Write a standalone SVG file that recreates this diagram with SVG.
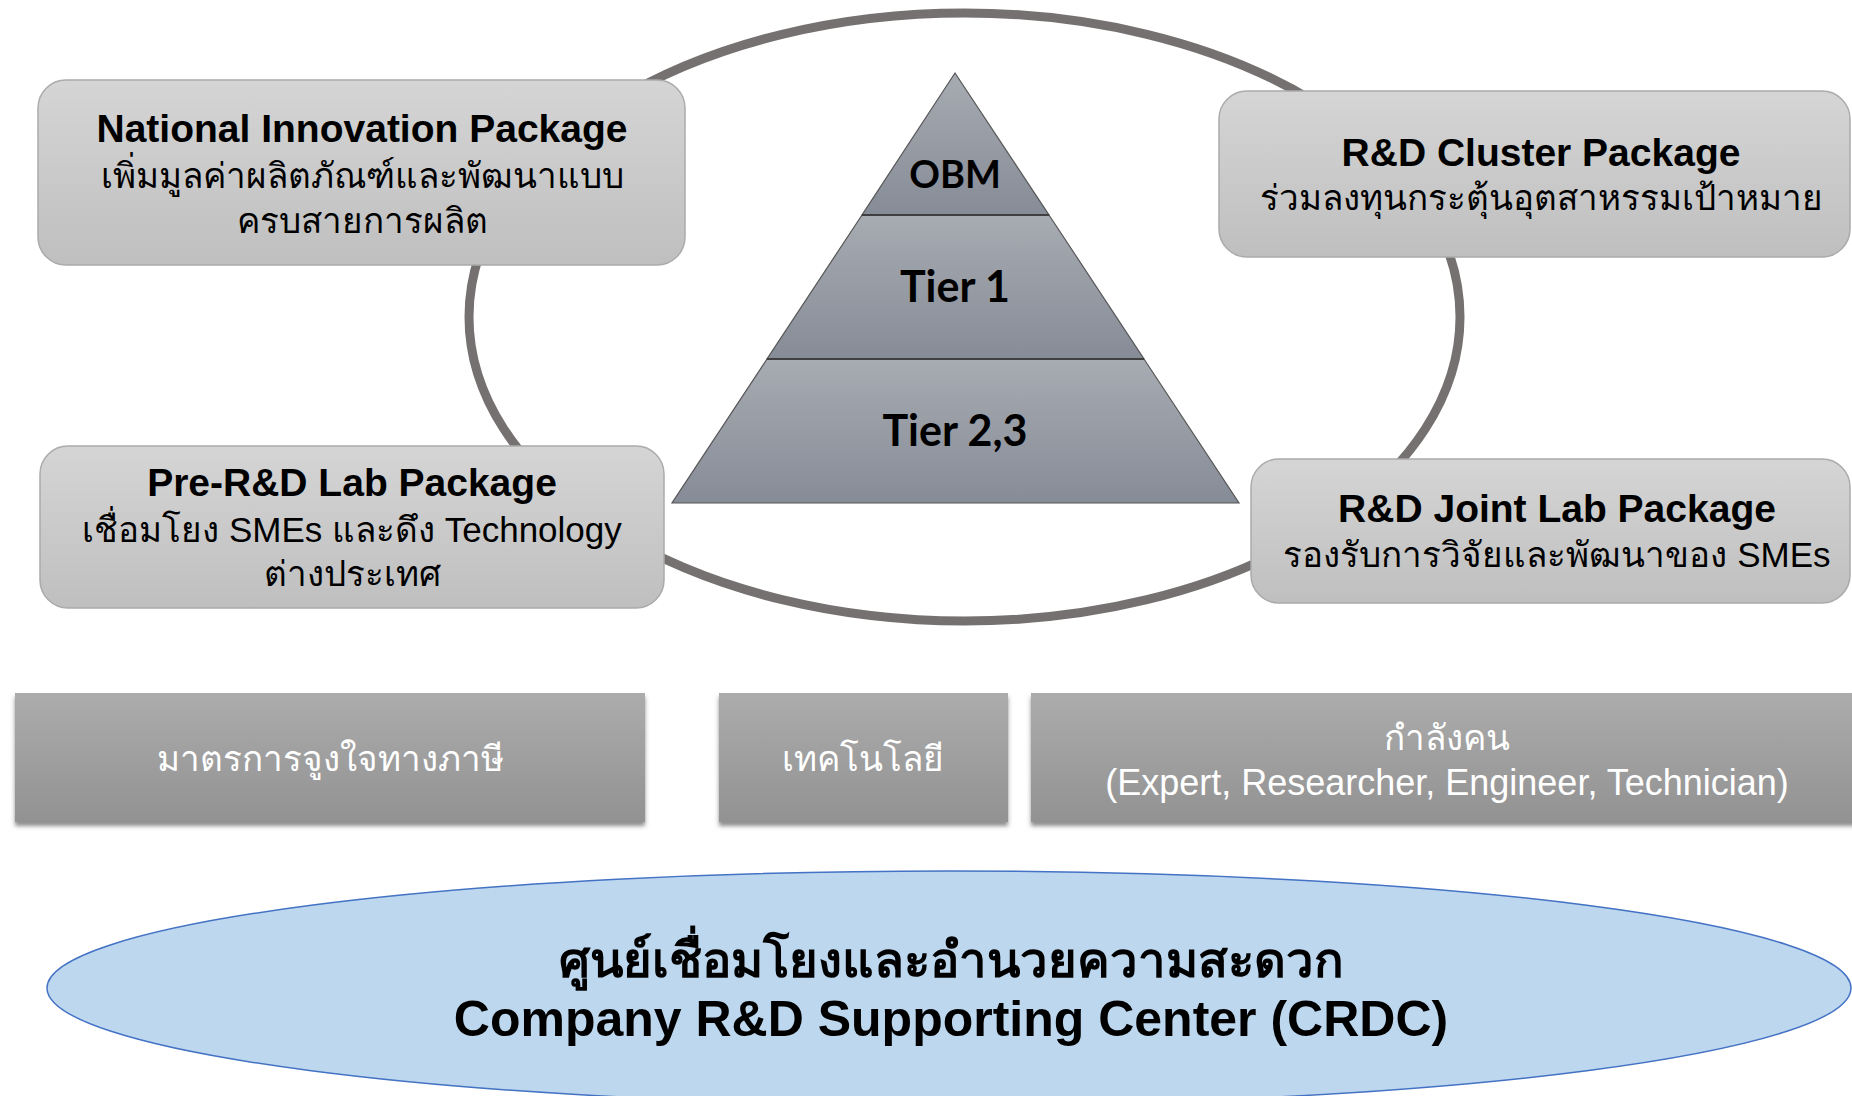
<svg xmlns="http://www.w3.org/2000/svg" width="1852" height="1096" viewBox="0 0 1852 1096">
<defs>
<linearGradient id="boxg" x1="0" y1="0" x2="0" y2="1">
<stop offset="0" stop-color="#d5d5d5"/><stop offset="1" stop-color="#bfbfbf"/>
</linearGradient>
<linearGradient id="barg" x1="0" y1="0" x2="0" y2="1">
<stop offset="0" stop-color="#acacac"/><stop offset="1" stop-color="#929292"/>
</linearGradient>
<linearGradient id="pyrg" x1="0" y1="0" x2="0" y2="1">
<stop offset="0" stop-color="#a7abb2"/><stop offset="1" stop-color="#868c97"/>
</linearGradient>
<filter id="sh" x="-5%" y="-10%" width="110%" height="130%">
<feDropShadow dx="0" dy="4" stdDeviation="2" flood-color="#404040" flood-opacity="0.6"/>
</filter>
<style>
.box{fill:url(#boxg);stroke:#ababab;stroke-width:1.5}
.bar{fill:url(#barg);filter:url(#sh)}
.ttl{font-family:"Liberation Sans","Noto Sans",sans-serif;font-weight:bold;font-size:39px;fill:#000;text-anchor:middle}
.th{font-family:"Liberation Sans","Noto Sans",sans-serif;font-size:35px;fill:#000;text-anchor:middle}
.wt{font-family:"Liberation Sans","Noto Sans",sans-serif;font-size:35px;fill:#fff;text-anchor:middle}
.pyr{fill:url(#pyrg);stroke:#555;stroke-width:1.2}
.pt{font-family:Lato,"Liberation Sans",sans-serif;font-weight:bold;fill:#000;text-anchor:middle}
.big{font-family:"Liberation Sans","Noto Sans",sans-serif;font-weight:bold;font-size:50px;fill:#000;text-anchor:middle}
</style>
</defs>
<rect width="1852" height="1096" fill="#fff"/>
<g id="connectors">
<ellipse cx="964.5" cy="317" rx="495.5" ry="304" fill="none" stroke="#757171" stroke-width="9"/>
</g>
<g id="national">
<rect class="box" x="38" y="80" width="647" height="185" rx="28"/>
<text class="ttl" x="362" y="142">National Innovation Package</text>
<text class="th" x="362" y="188">เพิ่มมูลค่าผลิตภัณฑ์และพัฒนาแบบ</text>
<text class="th" x="362" y="233">ครบสายการผลิต</text>
</g>
<g id="cluster">
<rect class="box" x="1219" y="91" width="631" height="166" rx="28"/>
<text class="ttl" x="1541" y="166">R&amp;D Cluster Package</text>
<text class="th" x="1541" y="210">ร่วมลงทุนกระตุ้นอุตสาหรรมเป้าหมาย</text>
</g>
<g id="prelab">
<rect class="box" x="40" y="446" width="624" height="162" rx="28"/>
<text class="ttl" x="352" y="496">Pre-R&amp;D Lab Package</text>
<text class="th" x="352" y="542">เชื่อมโยง SMEs และดึง Technology</text>
<text class="th" x="352" y="586">ต่างประเทศ</text>
</g>
<g id="jointlab">
<rect class="box" x="1251" y="459" width="599" height="144" rx="28"/>
<text class="ttl" x="1557" y="522">R&amp;D Joint Lab Package</text>
<text class="th" x="1557" y="567">รองรับการวิจัยและพัฒนาของ SMEs</text>
</g>
<g id="pyramid">
<polygon class="pyr" points="955,73 1049,215 862,215"/>
<polygon class="pyr" points="862,215 1049,215 1144,359 767,359"/>
<polygon class="pyr" points="767,359 1144,359 1239,503 672,503"/>
<line x1="862" y1="215" x2="1049" y2="215" stroke="#3f3f3f" stroke-width="2"/>
<line x1="767" y1="359" x2="1144" y2="359" stroke="#3f3f3f" stroke-width="2"/>
<text class="pt" x="955" y="188" font-size="38">OBM</text>
<text class="pt" x="955" y="302" font-size="43">Tier 1</text>
<text class="pt" x="955" y="446" font-size="43">Tier 2,3</text>
</g>
<g id="tax">
<rect class="bar" x="15" y="693" width="630" height="129"/>
<text class="wt" x="330" y="771">มาตรการจูงใจทางภาษี</text>
</g>
<g id="tech">
<rect class="bar" x="719" y="693" width="289" height="129"/>
<text class="wt" x="863" y="771">เทคโนโลยี</text>
</g>
<g id="manpower">
<rect class="bar" x="1031" y="693" width="830" height="129"/>
<text class="wt" x="1447" y="750">กำลังคน</text>
<text class="wt" x="1447" y="795" style="font-size:36px">(Expert, Researcher, Engineer, Technician)</text>
</g>
<g id="crdc">
<ellipse cx="949" cy="988" rx="902" ry="117" fill="#bdd7ee" stroke="#4472c4" stroke-width="1.5"/>
<text class="big" x="951" y="977" style="font-size:49px">ศูนย์เชื่อมโยงและอำนวยความสะดวก</text>
<text class="big" x="951" y="1036">Company R&amp;D Supporting Center (CRDC)</text>
</g>
</svg>
